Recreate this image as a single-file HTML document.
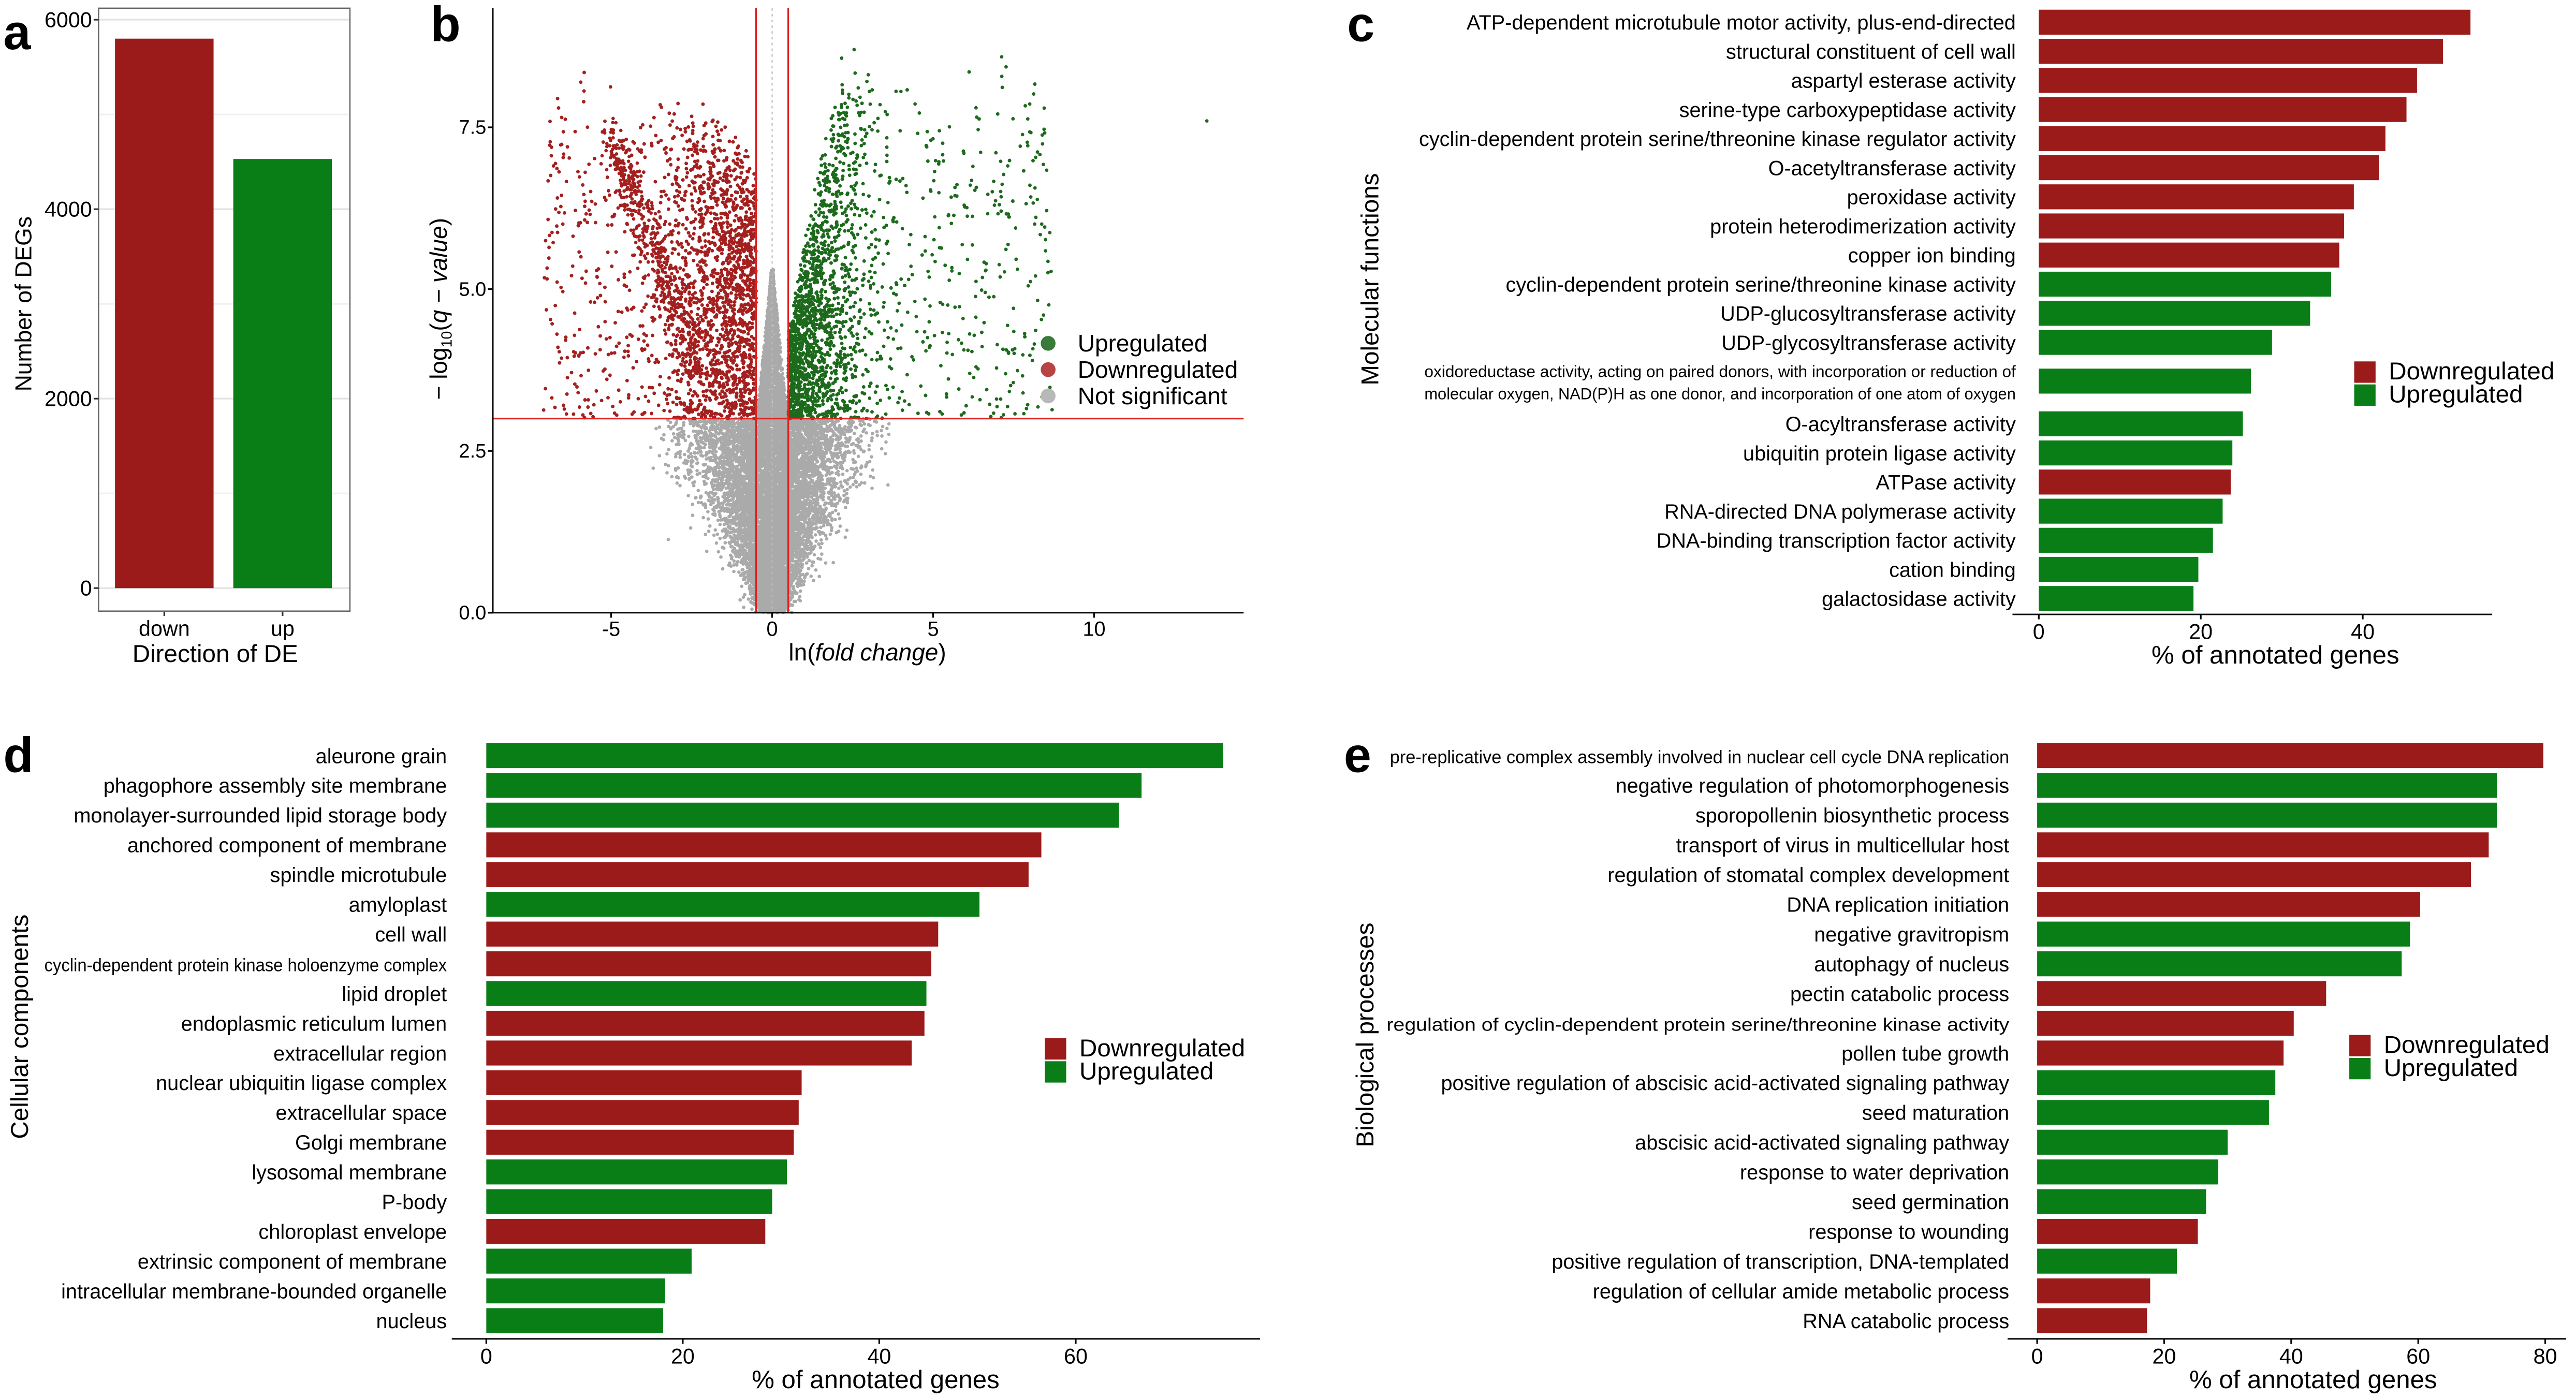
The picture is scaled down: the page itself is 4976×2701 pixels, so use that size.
<!DOCTYPE html>
<html><head><meta charset="utf-8"><style>
html,body{margin:0;padding:0;background:#fff}
svg{display:block}
text{font-family:"Liberation Sans",sans-serif;fill:#000}
</style></head><body>
<svg id="fig" width="4976" height="2701" viewBox="0 0 1568 851" preserveAspectRatio="none" xmlns="http://www.w3.org/2000/svg">
<rect width="1568" height="851" fill="#fff"/>
<g id="pa"></g>
<g id="pb"></g>
<g id="pc"></g>
<g id="pd"></g>
<g id="pe"></g>
</svg>
<script>
const RED="#9b1a1a", GREEN="#0a7e16";
// Panel a
const aCats=["down","up"];
const aVals=[5800,4530];
const aTicks=[0,2000,4000,6000];
// Panel c
const cLabels=["ATP-dependent microtubule motor activity, plus-end-directed","structural constituent of cell wall","aspartyl esterase activity","serine-type carboxypeptidase activity","cyclin-dependent protein serine/threonine kinase regulator activity","O-acetyltransferase activity","peroxidase activity","protein heterodimerization activity","copper ion binding","cyclin-dependent protein serine/threonine kinase activity","UDP-glucosyltransferase activity","UDP-glycosyltransferase activity","oxidoreductase activity","O-acyltransferase activity","ubiquitin protein ligase activity","ATPase activity","RNA-directed DNA polymerase activity","DNA-binding transcription factor activity","cation binding","galactosidase activity"];
const cVals=[53.3,49.9,46.7,45.4,42.8,42.0,38.9,37.7,37.1,36.1,33.5,28.8,26.2,25.2,23.9,23.7,22.7,21.5,19.7,19.1];
const cDir=["d","d","d","d","d","d","d","d","d","u","u","u","u","u","u","d","u","u","u","u"];
const cTicks=[0,20,40];
// Panel d
const dLabels=["aleurone grain","phagophore assembly site membrane","monolayer-surrounded lipid storage body","anchored component of membrane","spindle microtubule","amyloplast","cell wall","cyclin-dependent protein kinase holoenzyme complex","lipid droplet","endoplasmic reticulum lumen","extracellular region","nuclear ubiquitin ligase complex","extracellular space","Golgi membrane","lysosomal membrane","P-body","chloroplast envelope","extrinsic component of membrane","intracellular membrane-bounded organelle","nucleus"];
const dVals=[75,66.7,64.4,56.5,55.2,50.2,46.0,45.3,44.8,44.6,43.3,32.1,31.8,31.3,30.6,29.1,28.4,20.9,18.2,18.0];
const dDir=["u","u","u","d","d","u","d","d","u","d","d","d","d","d","u","u","d","u","u","u"];
const dTicks=[0,20,40,60];
// Panel e
const eLabels=["pre-replicative complex assembly involved in nuclear cell cycle DNA replication","negative regulation of photomorphogenesis","sporopollenin biosynthetic process","transport of virus in multicellular host","regulation of stomatal complex development","DNA replication initiation","negative gravitropism","autophagy of nucleus","pectin catabolic process","regulation of cyclin-dependent protein serine/threonine kinase activity","pollen tube growth","positive regulation of abscisic acid-activated signaling pathway","seed maturation","abscisic acid-activated signaling pathway","response to water deprivation","seed germination","response to wounding","positive regulation of transcription, DNA-templated","regulation of cellular amide metabolic process","RNA catabolic process"];
const eVals=[79.7,72.4,72.4,71.1,68.3,60.3,58.7,57.4,45.5,40.4,38.8,37.5,36.5,30.0,28.5,26.6,25.3,22.0,17.8,17.3];
const eDir=["d","u","u","d","d","d","u","u","d","d","d","u","u","u","u","u","d","u","d","d"];
const eTicks=[0,20,40,60,80];
// Panel b
const bXTicks=[-5,0,5,10];
const bYTicks=[0,2.5,5,7.5];
const bLegend=["Upregulated","Downregulated","Not significant"];

const NS="http://www.w3.org/2000/svg";
function mk(parent,tag,attrs,txt){const e=document.createElementNS(NS,tag);for(const k in attrs)e.setAttribute(k,attrs[k]);if(txt!==undefined)e.textContent=txt;parent.appendChild(e);return e;}

// ---------- Panel a ----------
(function(){
  const g=document.getElementById('pa');
  const y=v=>358-(v/6000)*(358-12);
  const x0=60,x1=213;
  for(let v=1000;v<=6000;v+=1000){const l=mk(g,'line',{x1:x0,x2:x1,y1:y(v),y2:y(v),stroke:v%2000?'#f0f0f0':'#e2e2e2','stroke-width':1});}
  mk(g,'line',{x1:x0,x2:x1,y1:y(0),y2:y(0),stroke:'#e2e2e2'});
  aCats.forEach((c,i)=>{
    const bx=70+i*72;
    const r=mk(g,'rect',{x:bx,y:y(aVals[i]),width:60,height:y(0)-y(aVals[i]),fill:i==0?RED:GREEN});
    
    
    const t=mk(g,'text',{x:bx+30,y:387,'font-size':13,'text-anchor':'middle',fill:'#444'},c);
    
    
    mk(g,'line',{x1:bx+30,x2:bx+30,y1:372,y2:375,stroke:'#333'});
  });
  const fr=mk(g,'rect',{x:x0,y:5,width:x1-x0,height:367,fill:'none',stroke:'#666','stroke-width':0.8});
  
  aTicks.forEach(v=>{
    const t=mk(g,'text',{x:56,y:y(v)+4.5,'font-size':13,'text-anchor':'end',fill:'#444'},v);
    
    mk(g,'line',{x1:57,x2:60,y1:y(v),y2:y(v),stroke:'#333'});
  });
  let t=mk(g,'text',{x:131,y:403,'font-size':15,'text-anchor':'middle'},'Direction of DE');
  
  t=mk(g,'text',{x:0,y:0,'font-size':14,'text-anchor':'middle',transform:'translate(19,185) rotate(-90)'},'Number of DEGs');
  
  t=mk(g,'text',{x:2,y:30,'font-size':30,'font-weight':'bold'},'a');
  
})();

// ---------- Panel b ----------
(function(){
  const g=document.getElementById('pb');
  const X=v=>470+v*19.6, Y=v=>373-v*39.4;
  let s=12345;const rnd=()=>{s=(s*1103515245+12345)%2147483648;return s/2147483648;};
  const nrm=()=>{let u=rnd()||1e-9,v=rnd();return Math.sqrt(-2*Math.log(u))*Math.cos(2*Math.PI*v);};
  const grayPts=[],redPts=[],greenPts=[];
  for(let i=0;i<9000;i++){const q=Math.pow(rnd(),0.8)*3;const x=nrm()*(0.22+0.4*q);if(Math.abs(x)<3.8)grayPts.push([x,q]);}
  for(let i=0;i<1800;i++){const q=3+Math.pow(rnd(),1.8)*2.3;const w=0.48*(1-(q-3)/2.4);grayPts.push([(rnd()*2-1)*Math.max(w,0.04),q]);}
  for(let i=0;i<6000;i++){let ax=Math.abs(nrm())*1.4;if(rnd()<0.22)ax=rnd()*6.6;const x=-0.5-ax;
    const top=7.2+Math.min(ax,3)*0.45;const q=3+Math.pow(rnd(),1.05)*(top-3)*(0.75+0.25*rnd());if(x>-7.3)redPts.push([x,Math.min(q,8.6)]);}
  for(let i=0;i<500;i++){const t=rnd();redPts.push([-5+2.7*t+nrm()*0.22,7.4-3.6*t+nrm()*0.18]);}
  for(let i=0;i<4800;i++){let ax=Math.abs(nrm())*1.2;if(rnd()<0.22)ax=rnd()*8.2;const x=0.5+ax;
    const top=Math.min(8.8,4.5+ax*2.6);const q=3+Math.pow(rnd(),1.05)*(top-3)*(0.75+0.25*rnd());greenPts.push([x,q]);}
  greenPts.push([13.5,7.6]);
  const layer=(pts,col,name)=>{const gg=mk(g,'g',{fill:col});
    pts.forEach(p=>{const c=document.createElementNS(NS,'circle');c.setAttribute('cx',X(p[0]).toFixed(1));c.setAttribute('cy',Y(p[1]).toFixed(1));c.setAttribute('r','1.05');gg.appendChild(c);});};
  layer(grayPts,'#aaaaaa','not-significant-points');
  layer(redPts,'#a3201f','downregulated-points');
  layer(greenPts,'#1d6a1d','upregulated-points');
  mk(g,'line',{x1:X(0),x2:X(0),y1:5,y2:373,stroke:'#bbb','stroke-dasharray':'1.5 2','stroke-width':0.7});
  [-0.5,0.5].forEach(v=>{const l=mk(g,'line',{x1:X(v),x2:X(v),y1:5,y2:373,stroke:'#e02020','stroke-width':1});});
  let l=mk(g,'line',{x1:300,x2:757,y1:Y(3),y2:Y(3),stroke:'#e02020','stroke-width':1});
  
  mk(g,'line',{x1:300,x2:300,y1:5,y2:373,stroke:'#000','stroke-width':0.9});
  mk(g,'line',{x1:300,x2:757,y1:373,y2:373,stroke:'#000','stroke-width':0.9});
  bXTicks.forEach(v=>{mk(g,'line',{x1:X(v),x2:X(v),y1:373,y2:376,stroke:'#000'});
    const t=mk(g,'text',{x:X(v),y:387,'font-size':12.5,'text-anchor':'middle',fill:'#333'},v);});
  bYTicks.forEach(v=>{mk(g,'line',{x1:297,x2:300,y1:Y(v),y2:Y(v),stroke:'#000'});
    const t=mk(g,'text',{x:296,y:Y(v)+4,'font-size':12,'text-anchor':'end',fill:'#333'},v.toFixed(1));});
  let t=mk(g,'text',{x:528,y:402,'font-size':14.5,'text-anchor':'middle'});t.innerHTML='ln(<tspan font-style="italic">fold change</tspan>)';
  
  t=mk(g,'text',{x:0,y:0,'font-size':14.5,'text-anchor':'middle',transform:'translate(272,188) rotate(-90)'});t.innerHTML='− log<tspan font-size="9" dy="3">10</tspan><tspan dy="-3">(</tspan><tspan font-style="italic">q − value</tspan>)';
  
  const lc=['#3a7a3a','#b84343','#b8b8b8'];
  bLegend.forEach((n,i)=>{const c=mk(g,'circle',{cx:638,cy:209+i*16,r:4.5,fill:lc[i]});
    const tt=mk(g,'text',{x:656,y:214+i*16,'font-size':14.5},n);});
  t=mk(g,'text',{x:262,y:25,'font-size':30,'font-weight':'bold'},'b');
})();

// ---------- Bar panels c, d, e ----------
function hbar(id,labels,vals,dir,ticks,o){
  const g=document.getElementById(id);
  const X=v=>o.x0+v*o.k;
  const rows=o.rows;
  labels.forEach((lab,i)=>{
    const yc=rows[i];
    const r=mk(g,'rect',{x:X(0),y:yc-7.6,width:X(vals[i])-X(0),height:15.2,fill:dir[i]=='d'?RED:GREEN});
    
    
    const sp=o.special[i];
    if(sp&&sp.lines){sp.lines.forEach((ln,j)=>{const t=mk(g,'text',{x:o.lx,y:yc+4-6.5+j*13.5,'font-size':sp.fs,'text-anchor':'end',textLength:sp.w,lengthAdjust:'spacingAndGlyphs'},ln);});}
    else{const a={x:o.lx,y:yc+4.5,'font-size':o.fs,'text-anchor':'end'};if(sp){a.textLength=sp.w;a.lengthAdjust='spacingAndGlyphs';a['font-size']=sp.fs;}
      const t=mk(g,'text',a,lab);}
  });
  const ax=mk(g,'line',{x1:o.ax1,x2:o.ax2,y1:o.ay,y2:o.ay,stroke:'#000','stroke-width':0.9});
  
  ticks.forEach(v=>{mk(g,'line',{x1:X(v),x2:X(v),y1:o.ay,y2:o.ay+3,stroke:'#000'});
    const t=mk(g,'text',{x:X(v),y:o.ay+15,'font-size':13,'text-anchor':'middle',fill:'#222'},v);});
  let t=mk(g,'text',{x:o.tx,y:o.ay+30,'font-size':15.5,'text-anchor':'middle'},'% of annotated genes');
  
  t=mk(g,'text',{x:0,y:0,'font-size':15,'text-anchor':'middle',transform:`translate(${o.yx},${o.yy}) rotate(-90)`},o.ytitle);
  
  [['Downregulated',RED],['Upregulated',GREEN]].forEach((p,i)=>{
    const r=mk(g,'rect',{x:o.lgx,y:o.lgy+i*14,width:13,height:13,fill:p[1]});
    const tt=mk(g,'text',{x:o.lgx+21,y:o.lgy+11+i*14,'font-size':15},p[0]);});
  t=mk(g,'text',{x:o.px,y:o.py,'font-size':30,'font-weight':'bold'},o.plab);
  
}
const cRows=[];for(let i=0;i<20;i++)cRows.push(i<12?13.5+i*17.72:(i==12?232:258+(i-13)*17.72));
hbar('pc',cLabels,cVals,cDir,cTicks,{x0:1241,k:4.93,rows:cRows,lx:1227,fs:12.5,ax1:1225,ax2:1517,ay:374,tx:1385,yx:839,yy:170,ytitle:'Molecular functions',lgx:1433,lgy:220,px:820,py:25,plab:'c',
  special:{12:{fs:10,w:360,lines:['oxidoreductase activity, acting on paired donors, with incorporation or reduction of','molecular oxygen, NAD(P)H as one donor, and incorporation of one atom of oxygen']}}});
const dRows=[];for(let i=0;i<20;i++)dRows.push(460+i*18.1);
hbar('pd',dLabels,dVals,dDir,dTicks,{x0:296,k:5.98,rows:dRows,lx:272,fs:12.5,ax1:275,ax2:767,ay:815,tx:533,yx:17,yy:625,ytitle:'Cellular components',lgx:636,lgy:632,px:2,py:470,plab:'d',
  special:{7:{fs:11,w:245}}});
hbar('pe',eLabels,eVals,eDir,eTicks,{x0:1240,k:3.866,rows:dRows,lx:1223,fs:12.5,ax1:1222,ax2:1562,ay:815,tx:1408,yx:836,yy:630,ytitle:'Biological processes',lgx:1430,lgy:630,px:818,py:470,plab:'e',
  special:{0:{fs:11,w:377},9:{fs:11,w:379}}});
</script>
</body></html>
